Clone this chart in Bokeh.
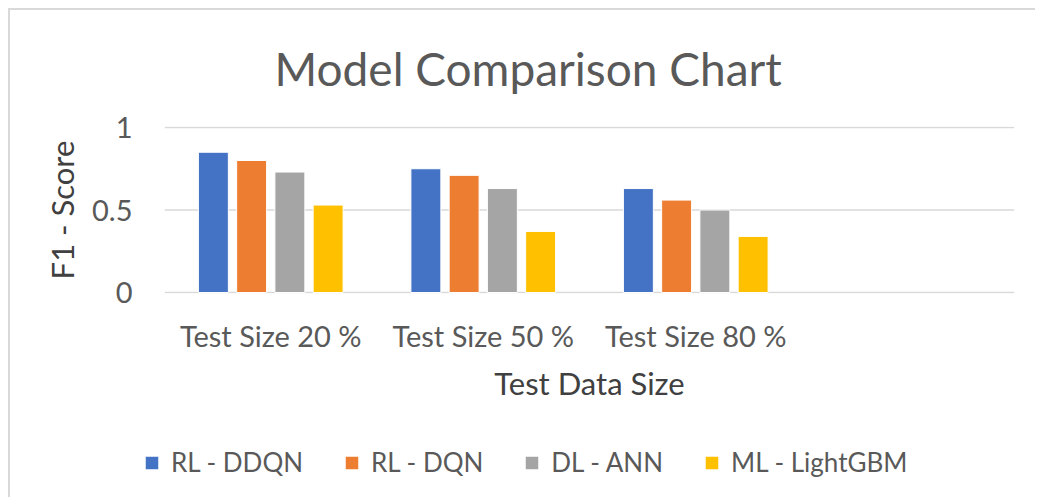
from bokeh.plotting import figure
from bokeh.layouts import column
from bokeh.models import FactorRange, Range1d, FixedTicker, Legend, LegendItem, ColumnDataSource
from bokeh.transform import dodge
from bokeh.embed import file_html
from bokeh.resources import INLINE

categories = ["Test Size 20 %", "Test Size 50 %", "Test Size 80 %", " "]
series_names = ["RL - DDQN", "RL - DQN", "DL - ANN", "ML - LightGBM"]
rl_ddqn = [0.85, 0.75, 0.63]
rl_dqn = [0.80, 0.71, 0.56]
dl_ann = [0.73, 0.63, 0.50]
ml_lightgbm = [0.53, 0.37, 0.34]
y_ticks = [0, 0.5, 1]
y_tick_labels = ["0", "0.5", "1"]

colors = ["#4472C4", "#ED7D31", "#A5A5A5", "#FFC000"]
offsets = [-0.27, -0.09, 0.09, 0.27]
FONT = "Lato"
keys = ["s0", "s1", "s2", "s3"]

source = ColumnDataSource(dict(
    cat=categories[:3], s0=rl_ddqn, s1=rl_dqn, s2=dl_ann, s3=ml_lightgbm))

# ---------------- main chart ----------------
p = figure(
    x_range=FactorRange(*categories, range_padding=0),
    y_range=Range1d(-0.006, 1.006),
    width=1025, height=430,
    output_backend="svg", toolbar_location=None,
    min_border_left=154, min_border_right=21, min_border_top=116, min_border_bottom=147,
    title="Model Comparison Chart",
)
p.frame_align = False
p.title.text_font = FONT
p.title.text_font_size = "46px"
p.title.text_font_style = "normal"
p.title.text_color = "#595959"
p.title.align = "left"
p.title.vertical_align = "top"
p.title.offset = 110
p.title.standoff = 58

p.outline_line_color = None
p.background_fill_color = "white"
p.border_fill_color = "white"

# horizontal gridlines spanning the four category slots
p.segment(x0=[0] * len(y_ticks), x1=[len(categories)] * len(y_ticks), y0=y_ticks, y1=y_ticks,
          line_color="#D9D9D9", line_width=1.5)

for i, key in enumerate(keys):
    p.vbar(x=dodge("cat", offsets[i], range=p.x_range), top=key, width=0.141,
           source=source, fill_color=colors[i], line_color="white", line_width=1)

p.xgrid.grid_line_color = None
p.ygrid.grid_line_color = None

p.yaxis.ticker = FixedTicker(ticks=y_ticks)
p.yaxis.major_label_overrides = {t: l for t, l in zip(y_ticks, y_tick_labels)}
for ax in (p.xaxis[0], p.yaxis[0]):
    ax.axis_line_color = None
    ax.major_tick_line_color = None
    ax.minor_tick_line_color = None
    ax.major_tick_out = 0
    ax.major_tick_in = 0
    ax.major_label_text_font = FONT
    ax.major_label_text_font_size = "29px"
    ax.major_label_text_color = "#595959"
    ax.axis_label_text_font = FONT
    ax.axis_label_text_font_size = "31px"
    ax.axis_label_text_font_style = "normal"
    ax.axis_label_text_color = "#404040"

p.xaxis.axis_label = "Test Data Size"
p.yaxis.axis_label = "F1 - Score"
p.xaxis.major_label_standoff = 24
p.xaxis.axis_label_standoff = 8
p.yaxis.major_label_standoff = 32
p.yaxis.axis_label_standoff = 8

# ---------------- legend strip ----------------
pl = figure(
    x_range=FactorRange(*categories, range_padding=0),
    y_range=Range1d(5, 6),
    width=1025, height=57,
    output_backend="svg", toolbar_location=None,
    x_axis_location=None, y_axis_location=None,
    min_border_left=0, min_border_right=0, min_border_top=0, min_border_bottom=0,
)
pl.frame_align = False
pl.outline_line_color = None
pl.xgrid.grid_line_color = None
pl.ygrid.grid_line_color = None
pl.background_fill_color = "white"
pl.border_fill_color = "white"

legend_renderers = []
for i, key in enumerate(keys):
    r = pl.vbar(x=dodge("cat", offsets[i], range=pl.x_range), top=key, width=0.141,
                source=source, fill_color=colors[i], line_color="white", line_width=1)
    legend_renderers.append(r)

legend = Legend(
    items=[LegendItem(label=series_names[i], renderers=[legend_renderers[i]]) for i in range(4)],
    orientation="horizontal", location=(133, 19),
    glyph_width=17, glyph_height=17, label_standoff=11, spacing=40,
    label_text_font=FONT, label_text_font_size="26px", label_text_color="#595959",
    border_line_color=None, background_fill_alpha=0, padding=0, margin=0,
)
pl.add_layout(legend, "center")

layout = column(p, pl, spacing=0,
                styles={"margin-left": "8px", "margin-top": "8px",
                        "border-left": "2px solid #d9d9d9", "border-top": "2px solid #d9d9d9"})

open("out.html", "w").write(file_html(layout, INLINE))
